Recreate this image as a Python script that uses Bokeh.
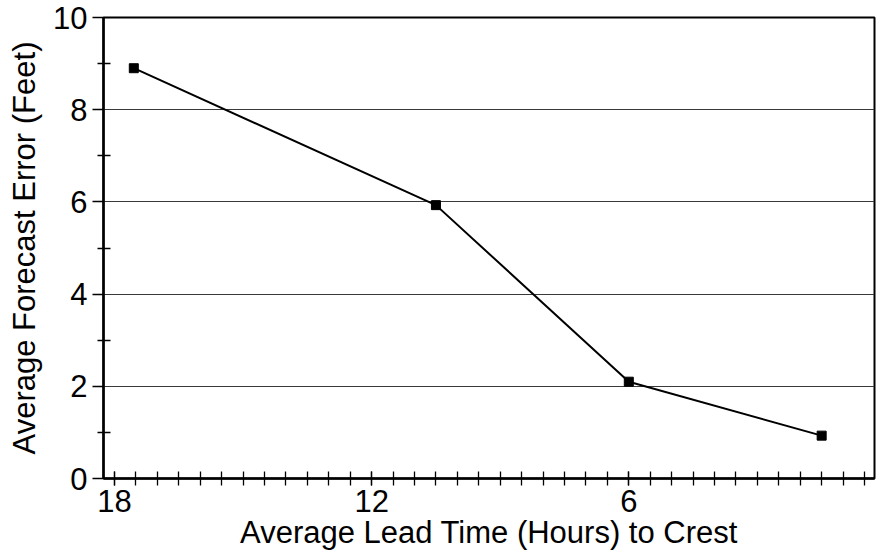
from bokeh.plotting import figure
from bokeh.models import FixedTicker, Range1d, Label
from bokeh.embed import file_html
from bokeh.resources import INLINE
import numpy as np

# Data
lead_time_hours = [17.55, 10.5, 6.0, 1.5]
forecast_error_ft = [8.9, 5.93, 2.1, 0.93]

x_major_ticks = [18, 12, 6]
x_minor_ticks = list(np.arange(0.5, 18.01, 0.5))
y_major_ticks = [0, 2, 4, 6, 8, 10]
y_minor_ticks = [1, 3, 5, 7, 9]
x_title = "Average Lead Time (Hours) to Crest"
y_title = "Average Forecast Error (Feet)"
end_label = "1"

FONT = "Liberation Sans"
FS = "31px"

p = figure(width=886, height=557, output_backend="svg", toolbar_location=None,
           x_range=Range1d(18.257, 0.267), y_range=Range1d(0, 10),
           min_border_left=103, min_border_right=12, min_border_top=17, min_border_bottom=79)
p.background_fill_color = "white"
p.border_fill_color = "white"
p.outline_line_color = "black"
p.outline_line_width = 2

# grids
p.xgrid.visible = False
p.ygrid.ticker = FixedTicker(ticks=y_major_ticks)
p.ygrid.grid_line_color = "#3a3a3a"
p.ygrid.grid_line_width = 1.2

# x axis
xa = p.xaxis[0]
xa.ticker = FixedTicker(ticks=x_major_ticks, minor_ticks=x_minor_ticks)
xa.axis_line_width = 2.5
xa.axis_line_color = "black"
xa.major_tick_in = 7
xa.major_tick_out = 7
xa.minor_tick_in = 7
xa.minor_tick_out = 7
xa.major_tick_line_width = 1.3
xa.minor_tick_line_width = 1.3
xa.major_tick_line_color = "black"
xa.minor_tick_line_color = "black"
xa.major_label_text_font = FONT
xa.major_label_text_font_size = FS
xa.major_label_text_color = "black"
xa.major_label_standoff = 4
xa.axis_label = x_title
xa.axis_label_text_font = FONT
xa.axis_label_text_font_size = FS
xa.axis_label_text_font_style = "normal"
xa.axis_label_text_color = "black"
xa.axis_label_standoff = 0

# y axis
ya = p.yaxis[0]
ya.ticker = FixedTicker(ticks=y_major_ticks, minor_ticks=y_minor_ticks)
ya.axis_line_width = 2.5
ya.axis_line_color = "black"
ya.major_tick_in = 0
ya.major_tick_out = 11
ya.minor_tick_in = 7
ya.minor_tick_out = 6
ya.major_tick_line_width = 1.3
ya.minor_tick_line_width = 1.3
ya.major_tick_line_color = "black"
ya.minor_tick_line_color = "black"
ya.major_label_text_font = FONT
ya.major_label_text_font_size = FS
ya.major_label_text_color = "black"
ya.major_label_standoff = 5
ya.axis_label = y_title
ya.axis_label_text_font = FONT
ya.axis_label_text_font_size = FS
ya.axis_label_text_font_style = "normal"
ya.axis_label_text_color = "black"
ya.axis_label_standoff = 8

# data
p.line(lead_time_hours, forecast_error_ft, line_color="black", line_width=2)
p.scatter(lead_time_hours, forecast_error_ft, marker="square", size=9,
          fill_color="black", line_color="black")

p.add_layout(Label(x=0.03, y=-0.29, text=end_label, text_align="right", text_baseline="top",
                   text_font=FONT, text_font_size=FS, text_color="black"))

open("out.html", "w").write(file_html(p, INLINE))
